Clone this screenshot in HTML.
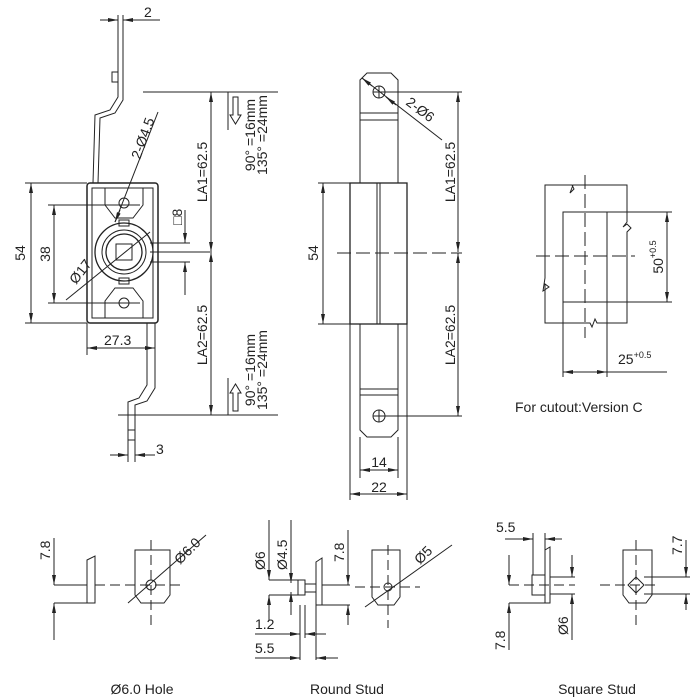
<!DOCTYPE html>
<html><head><meta charset="utf-8"><style>
html,body{margin:0;padding:0;background:#fff}
svg{display:block}
text{font-family:"Liberation Sans",sans-serif;font-size:14px;fill:#222}
</style></head><body>
<svg width="700" height="700" viewBox="0 0 700 700" xmlns="http://www.w3.org/2000/svg">
<defs>
<marker id="a" viewBox="0 0 10 4" refX="10" refY="2" markerWidth="10" markerHeight="4" orient="auto-start-reverse" markerUnits="userSpaceOnUse"><path d="M0,0L10,2L0,4z" fill="#222"/></marker>
</defs>
<g stroke="#222" stroke-width="1" fill="none">
<!-- LEFT VIEW -->
<path d="M118,15V97L110,110L95,115L93,183"/>
<path d="M123,15V100L115,113L100,118L98,183"/>
<rect x="112" y="72" width="6" height="10"/>
<rect x="87" y="183" width="71" height="140" rx="3" stroke-width="1.5"/>
<rect x="92" y="188" width="61" height="130"/>
<path d="M105,188V205L115,218H133L143,205V188"/>
<path d="M105,318V301L115,288H133L143,301V318"/>
<circle cx="124" cy="203" r="5"/><circle cx="124" cy="303" r="5"/>
<circle cx="124" cy="252" r="29" stroke-width="1.3"/>
<circle cx="124" cy="252" r="22"/><circle cx="124" cy="252" r="18" stroke-width="1.3"/>
<rect x="116" y="244" width="16" height="16"/>
<rect x="119" y="220" width="10" height="6"/><rect x="119" y="278" width="10" height="6"/>
<path d="M147,323V385L139,398L128,402V440"/>
<path d="M155,323V388L147,401L135,405V440"/>
<rect x="128" y="430" width="7" height="10"/>
<!-- left dims -->
<path d="M100,20H118" marker-end="url(#a)"/><path d="M140,20H123" marker-end="url(#a)"/><path d="M123,20H160"/>
<path d="M25,183H87M25,323H87"/>
<path d="M31,183V323" marker-start="url(#a)" marker-end="url(#a)"/>
<path d="M48,205H140M48,303H140"/>
<path d="M54,205V303" marker-start="url(#a)" marker-end="url(#a)"/>
<path d="M66,300L150,232"/>
<path d="M158,112L115,222" /><path d="M120,210L115,222" marker-end="url(#a)"/>
<path d="M150,243H190M150,262H190M210,252H150"/>
<path d="M185,210V243" marker-end="url(#a)"/><path d="M185,295V262" marker-end="url(#a)"/>
<path d="M143,92H278M118,415H278"/>
<path d="M211,92V252" marker-start="url(#a)" marker-end="url(#a)"/>
<path d="M211,252V415" marker-start="url(#a)" marker-end="url(#a)"/>
<path d="M228,92V130M228,378V415"/>
<path d="M233,97h5v18h3l-5.5,9l-5.5,-9h3z"/>
<path d="M233,411h5v-18h3l-5.5,-9l-5.5,9h3z"/>
<path d="M87,323V355M155,323V355"/>
<path d="M87,348H155" marker-start="url(#a)" marker-end="url(#a)"/>
<path d="M128,440V462M135,440V462"/>
<path d="M110,455H128" marker-end="url(#a)"/><path d="M155,455H135" marker-end="url(#a)"/>
<!-- MIDDLE VIEW -->
<path d="M360,183V80L367,73H391L398,80V183"/>
<circle cx="379" cy="92" r="6"/>
<path d="M373,92H385M379,86V98"/>
<path d="M360,113H398M360,120H398"/>
<rect x="350" y="183" width="57" height="141" stroke-width="1.3"/>
<path d="M377,183V324M380,183V324"/>
<path d="M360,324V430L367,437H391L398,430V324"/>
<path d="M360,389H398M360,395H398"/>
<circle cx="379" cy="416" r="6"/>
<path d="M373,416H385M379,410V422"/>
<path d="M318,183H350M318,324H350"/>
<path d="M323,183V324" marker-start="url(#a)" marker-end="url(#a)"/>
<path d="M337,253H462" stroke-dasharray="14,5"/>
<path d="M385,92H462M385,416H462"/>
<path d="M458,92V252" marker-start="url(#a)" marker-end="url(#a)"/>
<path d="M458,253V416" marker-start="url(#a)" marker-end="url(#a)"/>
<path d="M362,78L442,140"/><path d="M372,86L362,78" marker-end="url(#a)"/><path d="M386,97L396,105" marker-start="url(#a)"/>
<path d="M360,437V478M398,437V478M350,324V500M407,324V500"/>
<path d="M360,470H398" marker-start="url(#a)" marker-end="url(#a)"/>
<path d="M350,494H407" marker-start="url(#a)" marker-end="url(#a)"/>
<!-- CUTOUT -->
<path d="M545,185H572L574,189L570,193L573,185H627V222L623,227L627,224L631,228L627,232V323H597L595,319L592,327L590,323H545V284L549,287L543,291L545,278V185z"/>
<rect x="563" y="212" width="44" height="90"/>
<path d="M585,175V338M536,256H635" stroke-dasharray="14,5"/>
<path d="M607,212H672M607,302H672"/>
<path d="M667,212V302" marker-start="url(#a)" marker-end="url(#a)"/>
<path d="M563,302V377M607,302V377M607,372H667"/>
<path d="M563,372H607" marker-start="url(#a)" marker-end="url(#a)"/>
<!-- BOTTOM: hole -->
<path d="M54,538V585" marker-end="url(#a)"/><path d="M54,640V603" marker-end="url(#a)"/>
<path d="M54,585H87M54,603H87"/>
<path d="M95,585H180" stroke-dasharray="10,5"/>
<path d="M87,560L95,556V603H87z"/><path d="M87,585V603"/>
<path d="M135,550H170V595L164,603H141L135,595z"/>
<circle cx="151" cy="585" r="5"/>
<path d="M151,540V628" stroke-dasharray="10,5"/>
<path d="M128,603L206,535"/>
<!-- round stud -->
<path d="M269,520V580" marker-end="url(#a)"/><path d="M269,620V595" marker-end="url(#a)"/>
<path d="M291,520V583" marker-end="url(#a)"/><path d="M291,615V592" marker-end="url(#a)"/>
<path d="M269,580H305M269,595H305"/>
<rect x="298" y="580" width="7" height="15"/>
<path d="M305,584H316M305,592H316"/>
<path d="M316,562L322,558V605H316z"/><path d="M322,585H350M322,605H350"/>
<path d="M348,530V585" marker-end="url(#a)"/><path d="M348,625V605" marker-end="url(#a)"/>
<path d="M355,587H420" stroke-dasharray="10,5"/>
<path d="M372,550H400V597L394,605H378L372,597z"/>
<circle cx="388" cy="587" r="4"/>
<path d="M388,545V628" stroke-dasharray="10,5"/>
<path d="M365,607L452,545"/>
<path d="M300,605V660M305,605V638M316,605V660"/>
<path d="M255,634H300" marker-end="url(#a)"/><path d="M326,634H305" marker-end="url(#a)"/>
<path d="M255,658H300" marker-end="url(#a)"/><path d="M338,658H316" marker-end="url(#a)"/>
<!-- square stud -->
<path d="M505,539H533" marker-end="url(#a)"/><path d="M562,539H545" marker-end="url(#a)"/>
<path d="M533,533V575M545,533V560"/>
<path d="M545,550L550,547V603H545z"/>
<rect x="532" y="575" width="13" height="20"/>
<path d="M509,585H575" stroke-dasharray="10,5"/>
<path d="M509,555V585" marker-end="url(#a)"/><path d="M509,650V603" marker-end="url(#a)"/>
<path d="M509,603H550M550,577H575M550,594H575"/>
<path d="M572,555V577" marker-end="url(#a)"/><path d="M572,640V594" marker-end="url(#a)"/>
<path d="M623,550H652V595L646,603H629L623,595z"/>
<path d="M636,577L644,585L636,593L628,585z"/>
<path d="M600,585H660" stroke-dasharray="10,5"/>
<path d="M636,540V625" stroke-dasharray="10,5"/>
<path d="M644,577H690M644,594H690"/>
<path d="M686,540V577" marker-end="url(#a)"/><path d="M686,610V594" marker-end="url(#a)"/>
</g>
<g>
<text x="144" y="17">2</text>
<text transform="translate(25,253) rotate(-90)" text-anchor="middle">54</text>
<text transform="translate(50,254) rotate(-90)" text-anchor="middle">38</text>
<text transform="translate(76,285) rotate(-52)">Ø17</text>
<text transform="translate(140,160) rotate(-70)">2-Ø4.5</text>
<text transform="translate(182,225) rotate(-90)">□8</text>
<text transform="translate(207,172) rotate(-90)" text-anchor="middle">LA1=62.5</text>
<text transform="translate(207,335) rotate(-90)" text-anchor="middle">LA2=62.5</text>
<text transform="translate(255,135) rotate(-90)" text-anchor="middle">90° =16mm</text>
<text transform="translate(267,135) rotate(-90)" text-anchor="middle">135° =24mm</text>
<text transform="translate(255,370) rotate(-90)" text-anchor="middle">90° =16mm</text>
<text transform="translate(267,370) rotate(-90)" text-anchor="middle">135° =24mm</text>
<text x="104" y="345">27.3</text>
<text x="156" y="454">3</text>
<text transform="translate(318,253) rotate(-90)" text-anchor="middle">54</text>
<text transform="translate(405,104) rotate(37)">2-Ø6</text>
<text transform="translate(455,172) rotate(-90)" text-anchor="middle">LA1=62.5</text>
<text transform="translate(455,335) rotate(-90)" text-anchor="middle">LA2=62.5</text>
<text x="379" y="467" text-anchor="middle">14</text>
<text x="379" y="492" text-anchor="middle">22</text>
<text transform="translate(663,257) rotate(-90)" text-anchor="middle">50<tspan font-size="9" dy="-7">+0.5</tspan></text>
<text x="618" y="364">25<tspan font-size="9" dy="-6">+0.5</tspan></text>
<text x="515" y="412" font-size="15">For cutout:Version C</text>
<text transform="translate(50,560) rotate(-90)">7.8</text>
<text transform="translate(180,565) rotate(-45)">Ø6.0</text>
<text x="142" y="694" text-anchor="middle">Ø6.0 Hole</text>
<text transform="translate(265,570) rotate(-90)">Ø6</text>
<text transform="translate(287,570) rotate(-90)">Ø4.5</text>
<text transform="translate(344,562) rotate(-90)">7.8</text>
<text transform="translate(420,565) rotate(-45)">Ø5</text>
<text x="255" y="629">1.2</text>
<text x="255" y="653">5.5</text>
<text x="347" y="694" text-anchor="middle">Round Stud</text>
<text x="496" y="532">5.5</text>
<text transform="translate(505,650) rotate(-90)">7.8</text>
<text transform="translate(568,635) rotate(-90)">Ø6</text>
<text transform="translate(682,555) rotate(-90)">7.7</text>
<text x="597" y="694" text-anchor="middle">Square Stud</text>
</g>
</svg>
</body></html>
